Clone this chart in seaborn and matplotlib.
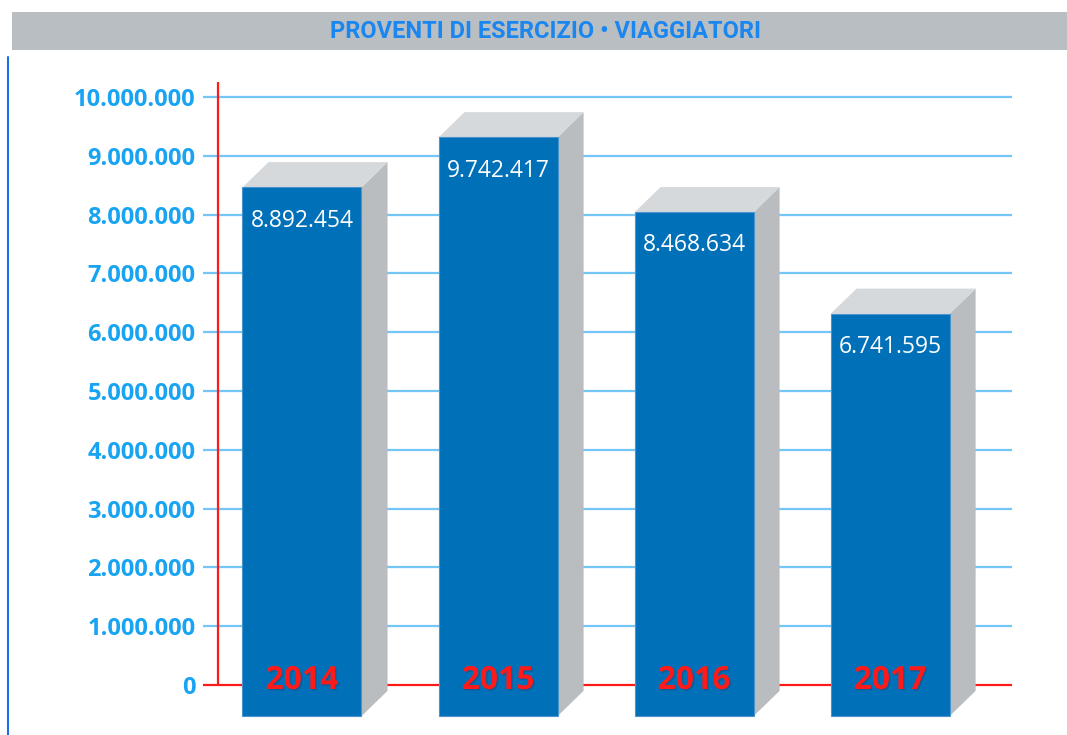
import numpy as np
import pandas as pd
import matplotlib
matplotlib.use("Agg")
import matplotlib.pyplot as plt
import matplotlib.patheffects as pe
from matplotlib.patches import Polygon, Rectangle
from matplotlib.lines import Line2D
import seaborn as sns

# Data
years = ["2014", "2015", "2016", "2017"]
values = [8892454, 9742417, 8468634, 6741595]
value_labels = ["8.892.454", "9.742.417", "8.468.634", "6.741.595"]
tick_values = [0, 1000000, 2000000, 3000000, 4000000, 5000000,
               6000000, 7000000, 8000000, 9000000, 10000000]

title = "PROVENTI DI ESERCIZIO \u2022 VIAGGIATORI"

# 3D look of the bars
depth_x = 0.133      # category units
depth_y = 430000     # value units
base = -530000       # front face starts a bit below zero
bar_w = 0.607

front_col = "#0070b9"
top_col = "#d5d9dc"
side_col = "#babdc0"
grid_col = "#74c6f7"
red = "#ff1a1a"

sns.set_style("white")
plt.rcParams["font.family"] = ["Open Sans", "DejaVu Sans"]

df = pd.DataFrame({"year": years, "value": values})
df["front_top"] = df["value"] - depth_y
df["height"] = df["front_top"] - base

fig = plt.figure(figsize=(10.67, 7.35), dpi=100)
ax = fig.add_axes([203 / 1067, 0, 809 / 1067, 678 / 735])

xmin, xmax = -0.505, 3.622

# grid lines and the red axes
ax.hlines(tick_values[1:], xmin, xmax, color=grid_col, lw=1.6, zorder=1)
ax.hlines(0, xmin, xmax, color=red, lw=1.6, zorder=1)
ax.vlines(-0.4286, 0, 10255000, color=red, lw=1.6, zorder=1)

sns.barplot(data=df, x="year", y="height", bottom=base, width=bar_w,
            color=front_col, saturation=1, edgecolor="#4b93cc", linewidth=0.8,
            ax=ax, zorder=3)

for i, row in df.iterrows():
    left, right = i - bar_w / 2, i + bar_w / 2
    top = row["front_top"]
    side = Polygon([(right, base), (right + depth_x, base + depth_y),
                    (right + depth_x, top + depth_y), (right, top)],
                   closed=True, facecolor=side_col, edgecolor="none", zorder=2)
    lid = Polygon([(left, top), (left + depth_x, top + depth_y),
                   (right + depth_x, top + depth_y), (right, top)],
                  closed=True, facecolor=top_col, edgecolor="none", zorder=2)
    ax.add_patch(side)
    ax.add_patch(lid)
    ax.text(i, top - 360000, value_labels[i], ha="center", va="top",
            color="white", fontsize=16.5, zorder=5)
    ax.text(i, -68000, row["year"], ha="center", va="baseline",
            color=red, fontsize=23, fontweight="bold", zorder=5,
            path_effects=[pe.SimplePatchShadow(offset=(1, -1), alpha=0.2),
                          pe.Normal()])

ax.set_xlim(xmin, xmax)
ax.set_ylim(-850300, 10680000)
ax.set_yticks(tick_values)
ax.set_yticklabels([f"{v:,}".replace(",", ".") for v in tick_values],
                   color="#18a4f2", fontsize=17, fontweight="bold")
ax.tick_params(axis="y", length=0, pad=5.5)
ax.set_xticks([])
ax.set_xlabel("")
ax.set_ylabel("")
for s in ax.spines.values():
    s.set_visible(False)

# title banner
fig.patches.append(Rectangle((12 / 1067, 1 - 50 / 735), 1055 / 1067, 38 / 735,
                             transform=fig.transFigure, facecolor="#b9bec3",
                             edgecolor="none", zorder=0))
fig.text(545 / 1067, 1 - 31.5 / 735, title, ha="center", va="center",
         color="#1a86f0", fontsize=17, fontweight="bold",
         family=["Roboto", "DejaVu Sans"])
fig.add_artist(Line2D([8 / 1067, 8 / 1067], [0, 1 - 57 / 735],
                      color="#1a6fe8", lw=1.5))

fig.savefig("out.png", dpi=100, facecolor="white")
